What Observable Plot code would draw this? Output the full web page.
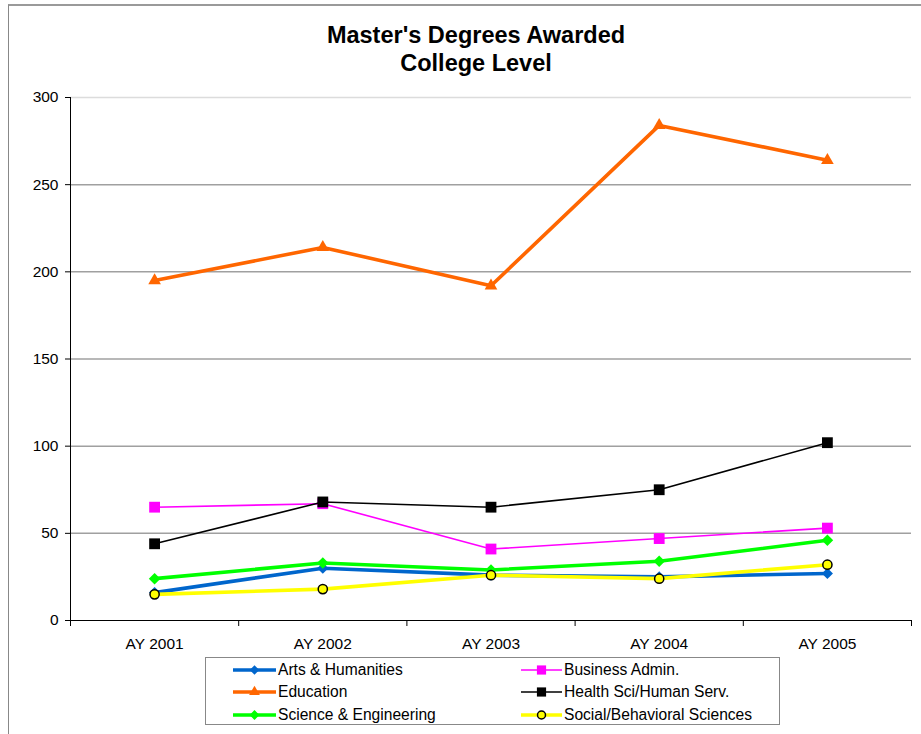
<!DOCTYPE html>
<html>
<head>
<meta charset="utf-8">
<script src="https://cdn.jsdelivr.net/npm/d3@7"></script>
<script src="https://cdn.jsdelivr.net/npm/@observablehq/plot@0.6"></script>
<style>
  html, body { margin: 0; padding: 0; background: #fff; overflow: hidden; }
  #wrap { position: relative; width: 921px; height: 734px; font-family: 'Liberation Sans', Arial, sans-serif; }
  #frame { position: absolute; left: 8px; top: 4px; width: 1000px; height: 1000px; border-top: 2px solid #9a9a9a; border-left: 1px solid #888; }
  #title { position: absolute; left: 276px; width: 400px; top: 22px; text-align: center; font-size: 23.5px; font-weight: bold; line-height: 27.5px; color: #000; }
  #chart { position: absolute; left: 0; top: 0; }
  #legend { position: absolute; left: 205px; top: 657px; width: 573px; height: 66px; border: 1px solid #888; background: #fff; }
  .item { position: absolute; height: 20px; display: flex; align-items: center; font-size: 15.6px; color: #000; white-space: nowrap; }
  .item svg { display: block; margin-right: 2px; }
</style>
</head>
<body>
<div id="wrap">
  <div id="frame"></div>
  <div id="chart"></div>
  <div id="title">Master's Degrees Awarded<br>College Level</div>
  <div id="legend"></div>
</div>
<script>
// ---- data ----
const categories = ["AY 2001", "AY 2002", "AY 2003", "AY 2004", "AY 2005"];
const seriesNames = ["Arts & Humanities", "Business Admin.", "Education", "Health Sci/Human Serv.", "Science & Engineering", "Social/Behavioral Sciences"];
const artsHumanities = [16, 30, 26, 25, 27];
const businessAdmin = [65, 67, 41, 47, 53];
const education = [195, 214, 192, 284, 264];
const healthSci = [44, 68, 65, 75, 102];
const scienceEng = [24, 33, 29, 34, 46];
const socialBehavioral = [15, 18, 26, 24, 32];
const yTicks = [0, 50, 100, 150, 200, 250, 300];

// ---- styles ----
const styles = [
  {color: "#0066cc", width: 3.6, symbol: "diamond2", r: 5.0, fill: "#0066cc", stroke: "none"},
  {color: "#ff00ff", width: 1.6, symbol: "square", r: 6.1, fill: "#ff00ff", stroke: "none"},
  {color: "#ff6600", width: 3.6, symbol: "triangle", r: 4.7, fill: "#ff6600", stroke: "none"},
  {color: "#000000", width: 1.6, symbol: "square", r: 6.1, fill: "#000000", stroke: "none"},
  {color: "#00ff00", width: 3.6, symbol: "diamond2", r: 5.2, fill: "#00ff00", stroke: "none"},
  {color: "#ffff00", width: 3.6, symbol: "circle", r: 4.6, fill: "#ffff00", stroke: "#000"}
];
const seriesValues = [artsHumanities, businessAdmin, education, healthSci, scienceEng, socialBehavioral];

const rows = seriesNames.map((name, s) => seriesValues[s].map((v, i) => ({series: name, idx: i, value: v})));

const marks = [
  Plot.ruleY(yTicks.filter(t => t > 0 && t < 300), {stroke: "#a0a0a0", strokeWidth: 1.5}),
  Plot.ruleY([300], {stroke: "#dcdcdc", strokeWidth: 1.5}),
  Plot.ruleX([-0.5], {y1: 0, y2: 300, stroke: "#000", strokeWidth: 1}),
  Plot.ruleY([0], {stroke: "#000", strokeWidth: 1}),
  Plot.axisY({ticks: yTicks, tickSize: 5, tickPadding: 7, label: null, fontSize: 15.5}),
  Plot.axisX({ticks: [-0.5, 0.5, 1.5, 2.5, 3.5, 4.5], tickSize: 6, tickFormat: () => "", label: null}),
  Plot.axisX({ticks: [0, 1, 2, 3, 4], tickSize: 0, tickPadding: 17, tickFormat: i => categories[i], label: null, fontSize: 15.5})
];
rows.forEach((data, s) => {
  const st = styles[s];
  marks.push(Plot.line(data, {x: "idx", y: "value", stroke: st.color, strokeWidth: st.width, strokeLinejoin: "round"}));
  marks.push(Plot.dot(data, {x: "idx", y: "value", symbol: () => st.symbol, r: st.r, fill: st.fill, stroke: st.stroke, strokeWidth: 1.5}));
});

const chart = Plot.plot({
  width: 921,
  height: 734,
  marginLeft: 70,
  marginRight: 10,
  marginTop: 97,
  marginBottom: 114,
  x: {type: "linear", domain: [-0.5, 4.5]},
  y: {domain: [0, 300]},
  symbol: {type: "identity"},
  style: {fontFamily: "'Liberation Sans', Arial, sans-serif", fontSize: "15.5px", color: "#000", background: "transparent", overflow: "visible"},
  marks
});
document.getElementById("chart").appendChild(chart);

// ---- legend ----
const legend = document.getElementById("legend");
const legendPos = [
  {x: 27, y: 11.5}, {x: 315, y: 11.5},
  {x: 27, y: 33.5}, {x: 315, y: 33.5},
  {x: 27, y: 56.5}, {x: 315, y: 56.5}
];
function symbolPath(sym, r) {
  const map = {circle: d3.symbolCircle, square: d3.symbolSquare, triangle: d3.symbolTriangle, diamond2: d3.symbolDiamond2};
  return d3.symbol(map[sym], Math.PI * r * r)();
}
seriesNames.forEach((name, s) => {
  const st = styles[s];
  const p = legendPos[s];
  const w = s % 2 === 0 ? 43 : 41;
  const div = document.createElement("div");
  div.className = "item";
  div.style.left = p.x + "px";
  div.style.top = (p.y - 10) + "px";
  const r = st.symbol === "circle" ? 4.0 : st.r * 0.85;
  div.innerHTML = `<svg width="${w}" height="20"><line x1="0" x2="${w}" y1="10" y2="10" stroke="${st.color}" stroke-width="${st.width}"/>` +
    `<path transform="translate(${w / 2},10)" d="${symbolPath(st.symbol, r)}" fill="${st.fill}" stroke="${st.stroke}" stroke-width="1.5"/></svg><span>${name}</span>`;
  legend.appendChild(div);
});
</script>
</body>
</html>
